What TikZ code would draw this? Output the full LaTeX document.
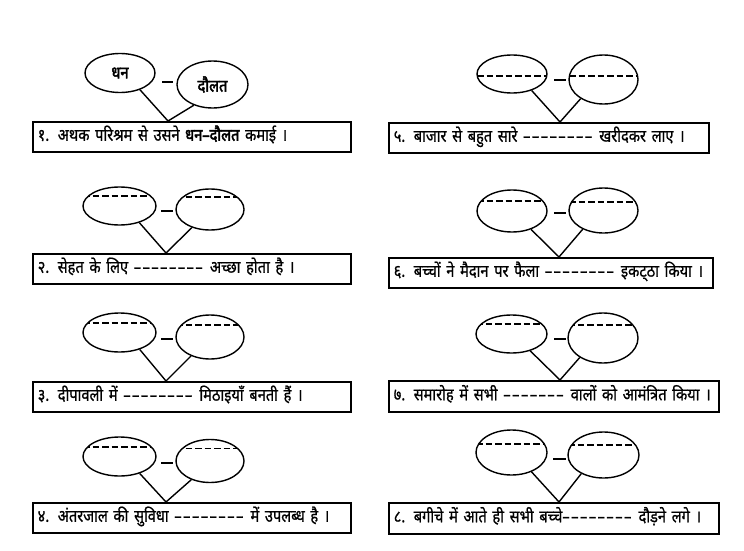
\documentclass[tikz,border=0pt]{standalone}
\usepackage{fontspec}
\newfontfamily\dev[Script=Devanagari,Ligatures=TeXOff,FakeStretch=0.86,FakeBold=0.8]{Noto Sans}
\newfontfamily\devb[Script=Devanagari,Ligatures=TeXOff,FakeStretch=0.86,FakeBold=2.6]{Noto Sans}
\usetikzlibrary{shapes.geometric}
\tikzset{
  x=1pt, y=-1pt,
  ell/.style={ellipse, draw, line width=1.4pt, inner sep=0pt,
    font=\devb\fontsize{17}{20}\selectfont},
  chordat/.style={path picture={\draw[line width=1.7pt, dash pattern=on 6.5pt off 3pt]
    ([yshift=-#1]path picture bounding box.north west) --
    ([yshift=-#1]path picture bounding box.north east);}},
  sbox/.style={draw, line width=1.5pt, anchor=north west, inner xsep=5pt, inner ysep=0pt,
    align=left, text height=13pt, text depth=5pt,
    font=\dev\fontsize{17}{20}\selectfont},
  link/.style={line width=1.4pt},
  bar/.style={line width=2pt},
}
\newcommand{\blankd}[1]{\foreach \i in {1,...,#1}{–\kern1.5pt}}
\begin{document}
\begin{tikzpicture}
\useasboundingbox[fill=white] (0,0) rectangle (744,551);

% ---------- group 1 ----------
\node[ell, minimum width=70pt, minimum height=39pt] (l1) at (120,73) {धन};
\node[ell, minimum width=71pt, minimum height=47pt] (r1) at (212.5,84.5) {दौलत};
\draw[bar] (162,82) -- (173,82);
\node[sbox, text width=308pt, minimum height=30pt] (b1) at (32,121)
  {१. अथक परिश्रम से उसने {\devb धन–दौलत} कमाई ।};
\coordinate (v1) at (168,121);
\draw[link] (l1.-40) -- (v1) -- (r1.-132);

% ---------- group 2 ----------
\node[ell, minimum width=73pt, minimum height=38pt, chordat=9pt] (l2) at (119.5,206) {};
\node[ell, minimum width=68pt, minimum height=41pt, chordat=8pt] (r2) at (210,209.5) {};
\draw[bar] (161,211) -- (173,211);
\node[sbox, text width=308pt, minimum height=30pt] (b2) at (32,253)
  {२. सेहत के लिए \blankd{8} अच्छा होता है ।};
\coordinate (v2) at (166,253);
\draw[link] (l2.-40) -- (v2) -- (r2.-135);

% ---------- group 3 ----------
\node[ell, minimum width=73pt, minimum height=39pt, chordat=10pt] (l3) at (119.5,332.5) {};
\node[ell, minimum width=68pt, minimum height=44pt, chordat=10pt] (r3) at (210,337) {};
\draw[bar] (161,339) -- (173,339);
\node[sbox, text width=308pt, minimum height=30pt] (b3) at (32,381)
  {३. दीपावली में \blankd{8} मिठाइयाँ बनती हैं ।};
\coordinate (v3) at (166,381);
\draw[link] (l3.-40) -- (v3) -- (r3.-135);

% ---------- group 4 ----------
\node[ell, minimum width=73pt, minimum height=39pt, chordat=10pt] (l4) at (119.5,456.5) {};
\node[ell, minimum width=68pt, minimum height=43pt, chordat=9pt] (r4) at (210,461) {};
\draw[bar] (161,463) -- (173,463);
\node[sbox, text width=308pt, minimum height=30pt] (b4) at (32,502)
  {४. अंतरजाल की सुविधा \blankd{8} में उपलब्ध है ।};
\coordinate (v4) at (166,502);
\draw[link] (l4.-40) -- (v4) -- (r4.-135);

% ---------- group 5 ----------
\node[ell, minimum width=70pt, minimum height=38pt, chordat=21pt] (l5) at (512,74) {};
\node[ell, minimum width=69pt, minimum height=49pt, chordat=21pt] (r5) at (603.5,79.5) {};
\draw[bar] (554,80) -- (566,80);
\node[sbox, text width=310pt, minimum height=30pt] (b5) at (388,122)
  {५. बाजार से बहुत सारे \blankd{8} खरीदकर लाए ।};
\coordinate (v5) at (560,122);
\draw[link] (l5.-40) -- (v5) -- (r5.-140);

% ---------- group 6 ----------
\node[ell, minimum width=70pt, minimum height=42pt, chordat=11pt] (l6) at (512,211) {};
\node[ell, minimum width=69pt, minimum height=45pt, chordat=14pt] (r6) at (603.5,210.5) {};
\draw[bar] (554,213) -- (566,213);
\node[sbox, text width=314pt, minimum height=30pt] (b6) at (388,257)
  {६. बच्चों ने मैदान पर फैला \blankd{8} इकट्‌ठा किया ।};
\coordinate (v6) at (559,257);
\draw[link] (l6.-44) -- (v6) -- (r6.-138);

% ---------- group 7 ----------
\node[ell, minimum width=71pt, minimum height=38pt, chordat=9pt] (l7) at (511.5,334) {};
\node[ell, minimum width=70pt, minimum height=50pt, chordat=12pt] (r7) at (603,338) {};
\draw[bar] (554,339) -- (566,339);
\node[sbox, text width=320pt, minimum height=31pt] (b7) at (388,380)
  {७. समारोह में सभी \blankd{7} वालों को आमंत्रित किया ।};
\coordinate (v7) at (560,380);
\draw[link] (l7.-42) -- (v7) -- (r7.-140);

% ---------- group 8 ----------
\node[ell, minimum width=71pt, minimum height=45pt, chordat=14pt] (l8) at (511.5,452.5) {};
\node[ell, minimum width=71pt, minimum height=46pt, chordat=13pt] (r8) at (603.5,455) {};
\draw[bar] (553,459) -- (566,459);
\node[sbox, text width=320pt, minimum height=31pt] (b8) at (388,502)
  {८. बगीचे में आते ही सभी बच्चे\blankd{8} दौड़ने लगे ।};
\coordinate (v8) at (559,502);
\draw[link] (l8.-44) -- (v8) -- (r8.-140);
\end{tikzpicture}
\end{document}
